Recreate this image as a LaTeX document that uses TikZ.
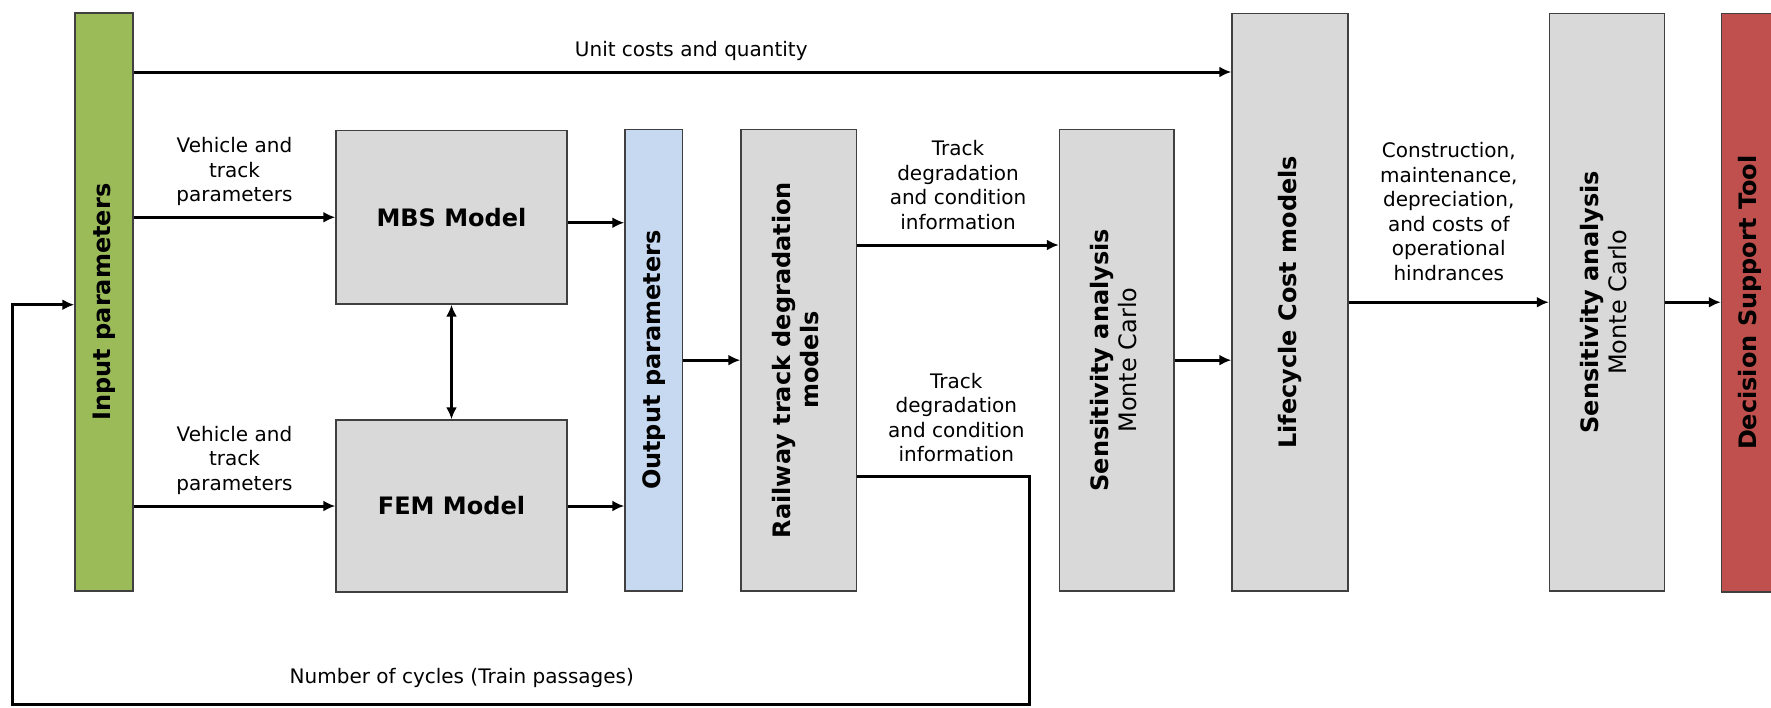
\documentclass[tikz,border=0pt]{standalone}
\usepackage{fontspec}
\setmainfont{DejaVu Sans}
\usetikzlibrary{arrows.meta}
\definecolor{inputgreen}{HTML}{9BBB59}
\definecolor{outputblue}{HTML}{C6D9F1}
\definecolor{modelgrey}{HTML}{D9D9D9}
\definecolor{toolred}{HTML}{C0504D}

\begin{document}
\begin{tikzpicture}[x=1pt,y=-1pt]
	\tikzstyle{block}=[rectangle,draw=black!75,line width=1.4pt,inner sep=0pt,font=\fontsize{24}{28.5}\selectfont\bfseries]
	\tikzstyle{model}=[block,fill=modelgrey]
	\tikzstyle{flow}=[draw,line width=3pt,-{Latex[length=12pt,width=11pt]},black]
	\tikzstyle{loop back}=[draw,line width=3pt,-{Latex[length=12pt,width=11pt]},black]
	\tikzstyle{flow label}=[font=\fontsize{20}{24.5}\selectfont,align=center,inner sep=0pt]

	\useasboundingbox (0,0) rectangle (1771,707);

	\node[block,fill=inputgreen,minimum width=58pt,minimum height=578pt] (inp) at (104,302) {\rotatebox{90}{Input parameters}};
	\node[model,minimum width=231pt,minimum height=173.5pt] (mbs) at (451.5,217.25) {MBS Model};
	\node[model,minimum width=231pt,minimum height=172pt] (fem) at (451.5,506) {FEM Model};
	\node[block,fill=outputblue,minimum width=57.5pt,minimum height=461.7pt] (outp) at (653.75,360.15) {\rotatebox{90}{Output parameters}};
	\node[model,minimum width=115.5pt,minimum height=461.7pt] (rail) at (798.75,360.15) {\rotatebox{90}{\begin{tabular}{@{}c@{}}Railway track degradation\\models\end{tabular}}};
	\node[model,minimum width=114.5pt,minimum height=461.7pt] (sens1) at (1116.75,360.15) {\rotatebox{90}{\begin{tabular}{@{}c@{}}Sensitivity analysis\\\mdseries Monte Carlo\end{tabular}}};
	\node[model,minimum width=116pt,minimum height=577.5pt] (lcc) at (1290,302.25) {\rotatebox{90}{Lifecycle Cost models}};
	\node[model,minimum width=115pt,minimum height=577.5pt] (sens2) at (1607,302.25) {\rotatebox{90}{\begin{tabular}{@{}c@{}}Sensitivity analysis\\\mdseries Monte Carlo\end{tabular}}};
	\node[block,fill=toolred,minimum width=57.5pt,minimum height=578.5pt] (dst) at (1750.25,302.75) {\rotatebox{90}{Decision Support Tool}};

	\coordinate (ucq) at (0,72);
	\coordinate (mo) at ([yshift=-5.5pt]mbs.east);
	\coordinate (tdc) at (0,245);
	\coordinate (tdo) at (0,476.7);
	\coordinate (fbr) at (1029,704);
	\coordinate (fbl) at (12.5,704);

	\draw[flow] (inp.east |- ucq) -- node[flow label,above=10pt,pos=0.508] {Unit costs and quantity} (lcc.west |- ucq);
	\draw[flow] (inp.east |- mbs) -- node[flow label,above=10pt] {Vehicle and\\track\\parameters} (mbs);
	\draw[flow] (inp.east |- fem) -- node[flow label,above=10pt] {Vehicle and\\track\\parameters} (fem);
	\draw[flow] (mo) -- (mo -| outp.west);
	\draw[flow] (fem) -- (fem -| outp.west);
	\draw[flow,{Latex[length=12pt,width=11pt]}-{Latex[length=12pt,width=11pt]},line width=2.4pt] (mbs) -- (fem);
	\draw[flow] (outp) -- (rail);
	\draw[flow] (rail.east |- tdc) -- node[flow label,above=14pt] {Track\\degradation\\and condition\\information} (sens1.west |- tdc);
	\draw[flow] (sens1.east) -- (sens1.east -| lcc.west);
	\draw[flow] (lcc) -- node[flow label,above=20pt] {Construction,\\maintenance,\\depreciation,\\and costs of\\operational\\hindrances} (sens2);
	\draw[flow] (sens2) -- (sens2 -| dst.west);

	\draw[loop back] (rail.east |- tdo) -- node[flow label,above=13pt,pos=0.577] {Track\\degradation\\and condition\\information} (fbr |- tdo) -- (fbr) -- node[flow label,above=15pt,pos=0.558] {Number of cycles (Train passages)} (fbl) |- (inp.west |- mbs.south);
\end{tikzpicture}
\end{document}
